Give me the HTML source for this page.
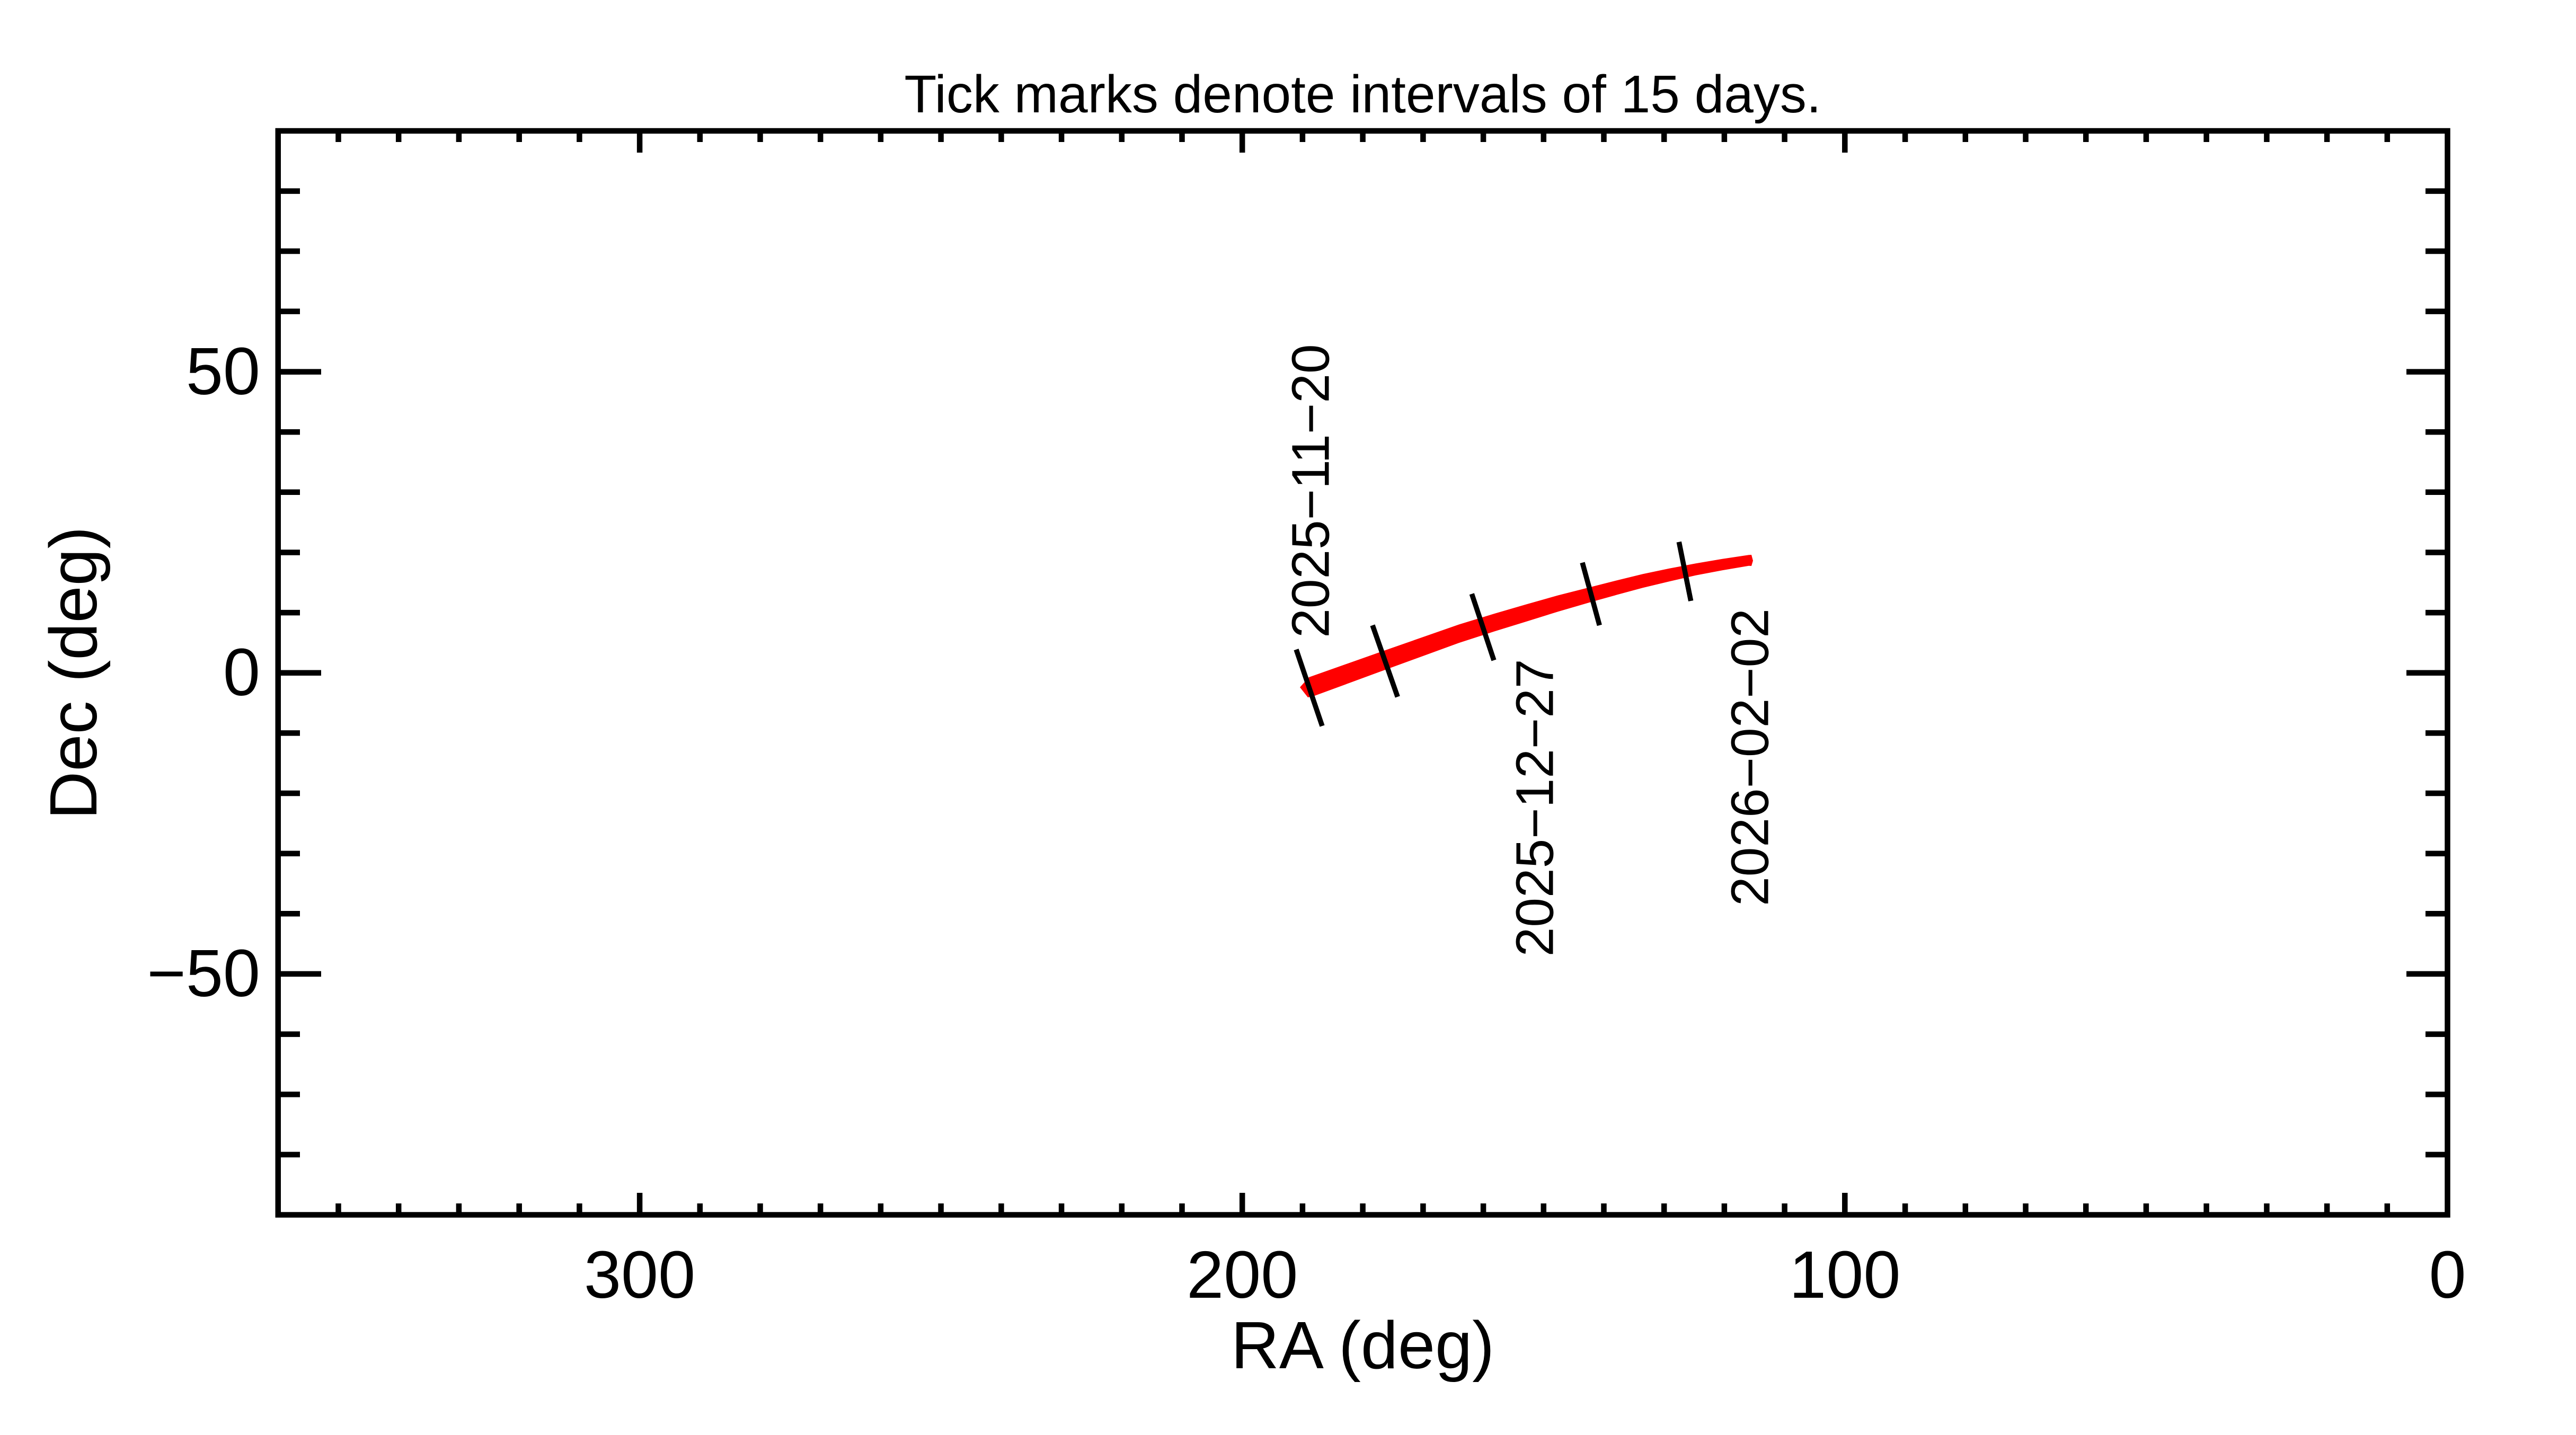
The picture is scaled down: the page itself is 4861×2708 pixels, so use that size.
<!DOCTYPE html>
<html>
<head>
<meta charset="utf-8">
<style>
html,body{margin:0;padding:0;background:#fff;}
svg{display:block;}
text{font-family:"Liberation Sans",Arial,Helvetica,sans-serif;fill:#000;}
</style>
</head>
<body>
<svg xmlns="http://www.w3.org/2000/svg" width="4861" height="2708" viewBox="0 0 4861 2708">
<rect x="0" y="0" width="4861" height="2708" fill="#fff"/>

<!-- title -->
<text x="2571.5" y="212" font-size="100" text-anchor="middle">Tick marks denote intervals of 15 days.</text>

<!-- ticks -->
<g stroke="#000" stroke-width="10.5" fill="none">
  <path d="
M4504.8 2292V2271M4391.1 2292V2271M4277.4 2292V2271M4163.6 2292V2271M4049.9 2292V2271M3936.2 2292V2271M3822.5 2292V2271M3708.8 2292V2271M3595.1 2292V2271
M3367.6 2292V2271M3253.9 2292V2271M3140.2 2292V2271M3026.5 2292V2271M2912.8 2292V2271M2799.1 2292V2271M2685.4 2292V2271M2571.6 2292V2271M2457.9 2292V2271
M2230.5 2292V2271M2116.8 2292V2271M2003.1 2292V2271M1889.4 2292V2271M1775.6 2292V2271M1661.9 2292V2271M1548.2 2292V2271M1434.5 2292V2271M1320.8 2292V2271
M1093.4 2292V2271M979.7 2292V2271M865.9 2292V2271M752.2 2292V2271M638.5 2292V2271
M4504.8 247V268M4391.1 247V268M4277.4 247V268M4163.6 247V268M4049.9 247V268M3936.2 247V268M3822.5 247V268M3708.8 247V268M3595.1 247V268
M3367.6 247V268M3253.9 247V268M3140.2 247V268M3026.5 247V268M2912.8 247V268M2799.1 247V268M2685.4 247V268M2571.6 247V268M2457.9 247V268
M2230.5 247V268M2116.8 247V268M2003.1 247V268M1889.4 247V268M1775.6 247V268M1661.9 247V268M1548.2 247V268M1434.5 247V268M1320.8 247V268
M1093.4 247V268M979.7 247V268M865.9 247V268M752.2 247V268M638.5 247V268"/>
  <path d="M3481.3 2292V2251M2344.2 2292V2251M1207.1 2292V2251M3481.3 247V288M2344.2 247V288M1207.1 247V288"/>
  <path d="
M524.75 360.6H566M524.75 474.0H566M524.75 587.6H566M524.75 701.6H566M524.75 815.2H566M524.75 928.8H566M524.75 1042.5H566M524.75 1156.1H566
M524.75 1383.4H566M524.75 1497.0H566M524.75 1610.7H566M524.75 1724.3H566M524.75 1951.6H566M524.75 2065.2H566M524.75 2178.9H566
M4618.5 360.6H4577M4618.5 474.0H4577M4618.5 587.6H4577M4618.5 815.2H4577M4618.5 928.8H4577M4618.5 1042.5H4577M4618.5 1156.1H4577
M4618.5 1383.4H4577M4618.5 1497.0H4577M4618.5 1610.7H4577M4618.5 1724.3H4577M4618.5 1951.6H4577M4618.5 2065.2H4577M4618.5 2178.9H4577"/>
  <path d="M524.75 701.6H606M524.75 1269.75H606M524.75 1837.9H606M4618.5 701.6H4541M4618.5 1269.75H4541M4618.5 1837.9H4541"/>
  <rect x="524.75" y="247" width="4093.75" height="2045.5"/>
</g>

<!-- y tick labels -->
<text x="491" y="744" font-size="126" text-anchor="end">50</text>
<text x="491" y="1312" font-size="126" text-anchor="end">0</text>
<text x="491" y="1880" font-size="126" text-anchor="end">−50</text>

<!-- x tick labels -->
<text x="1207.1" y="2449" font-size="126" text-anchor="middle">300</text>
<text x="2344.2" y="2449" font-size="126" text-anchor="middle">200</text>
<text x="3481.3" y="2449" font-size="126" text-anchor="middle">100</text>
<text x="4618.5" y="2449" font-size="126" text-anchor="middle">0</text>

<!-- axis titles -->
<text x="2571.5" y="2582" font-size="126" text-anchor="middle">RA (deg)</text>
<text transform="translate(182,1270) rotate(-90)" font-size="126" text-anchor="middle">Dec (deg)</text>

<!-- red track -->
<path fill="#ff0000" d="M2453 1297 L2470 1278 L2545 1251.5 L2620 1225 L2690 1200.5 L2753 1178.5 L2820 1158 L2880 1140.5 L2940 1123.5 L3000 1108.3 L3050 1095.5 L3100 1083.3 L3150 1072.8 L3200 1063.3 L3250 1054.8 L3300 1047.3 L3305 1047 L3308 1058 L3305 1068 L3300 1067.7 L3250 1076.3 L3200 1085.7 L3150 1097.2 L3100 1109.3 L3050 1122.8 L3000 1136.8 L2940 1154.2 L2880 1173 L2820 1191.5 L2753 1213.3 L2690 1236.3 L2620 1261.7 L2550 1287.5 L2480 1313.3 L2468 1316 Z"/>

<!-- black date ticks -->
<g stroke="#000" stroke-width="9.5" fill="none">
  <line x1="2446" y1="1225.7" x2="2495" y2="1370"/>
  <line x1="2590" y1="1180" x2="2637.3" y2="1315"/>
  <line x1="2777.3" y1="1120.7" x2="2819" y2="1246"/>
  <line x1="2986" y1="1061.7" x2="3018.3" y2="1180"/>
  <line x1="3168.3" y1="1022.7" x2="3190.7" y2="1134"/>
</g>

<!-- date labels -->
<text transform="translate(2507.5,926.6) rotate(-90)" font-size="100" text-anchor="middle">2025−11−20</text>
<text transform="translate(2930.3,1524.4) rotate(-90)" font-size="100" text-anchor="middle">2025−12−27</text>
<text transform="translate(3336.6,1429) rotate(-90)" font-size="100" text-anchor="middle">2026−02−02</text>
</svg>
</body>
</html>
